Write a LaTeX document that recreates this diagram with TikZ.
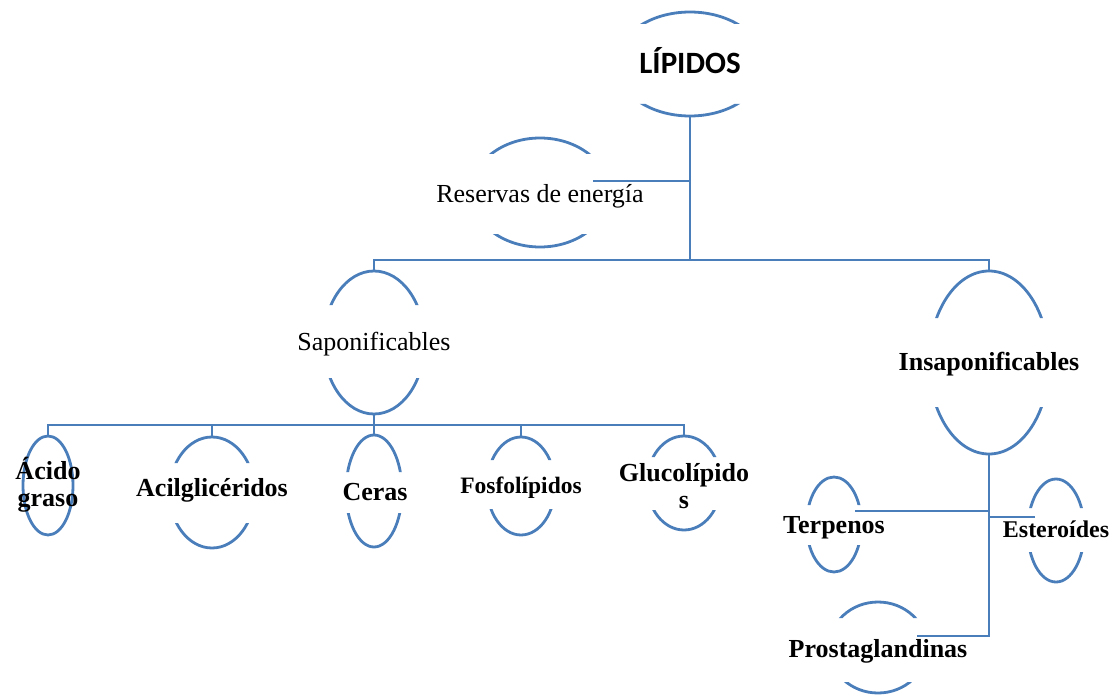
\documentclass[tikz,border=0pt]{standalone}
\usepackage{fontspec}
\setmainfont{Liberation Serif}
\newfontfamily\calfont{Carlito}
\usepackage{tikz}
\usetikzlibrary{shapes,positioning,calc}
\definecolor{lineblue}{RGB}{74,126,187}
\tikzset{
  oval/.style={ellipse, draw=lineblue, line width=2.8pt, inner sep=0pt, outer sep=0pt},
  conn/.style={draw=lineblue, line width=2.8pt},
  rtxt/.style={font=\fontsize{26}{26}\selectfont, inner sep=0pt},
  btxt/.style={font=\fontsize{26}{27}\selectfont\bfseries, inner sep=0pt, align=center},
}
% oval cut open across the text band: name, x, y, rx, ry, top gap, bottom gap
\newcommand{\ovalcut}[7]{%
  \begin{scope}
    \clip ({#2-#4-5},{#3-#5-5}) rectangle ({#2+#4+5},{#3-#6})
          ({#2-#4-5},{#3+#7}) rectangle ({#2+#4+5},{#3+#5+5});
    \node[oval, minimum width={2*#4}, minimum height={2*#5}] (#1) at (#2,#3) {};
  \end{scope}}

\begin{document}
\begin{tikzpicture}[x=1pt, y=-1pt]
    \useasboundingbox (0,0) rectangle (1115,695);
    % ovals
    \ovalcut{lip}{690}{64}{74}{52}{40}{40}
    \ovalcut{res}{540}{192.5}{69}{54.5}{38.5}{41.5}
    \ovalcut{sap}{374}{342.5}{50.5}{71.5}{37.5}{35.5}
    \ovalcut{ins}{989}{362.5}{60}{91.5}{44.5}{44.5}
    \ovalcut{acido}{48}{485.5}{25}{49.5}{0}{0}
    \ovalcut{acil}{212}{492.5}{42.5}{55.5}{29.5}{30.5}
    \ovalcut{ceras}{374}{491}{28}{56}{19}{22}
    \ovalcut{fosfo}{521}{486}{34}{49}{26}{23}
    \ovalcut{gluco}{684}{483}{37}{47}{26}{27}
    \ovalcut{terp}{834}{524.5}{27.4}{47.5}{19.5}{20.5}
    \ovalcut{este}{1056}{530.5}{28.3}{51.5}{22.5}{21.5}
    \ovalcut{prosta}{878}{647.5}{49}{45.5}{29.5}{34.5}
    % texts
    \node[font=\calfont\fontsize{31}{31}\selectfont\bfseries, inner sep=0pt, anchor=base] (lipt) at (690,74) {LÍPIDOS};
    \node[rtxt, anchor=base] (rest) at (540,202) {Reservas de energía};
    \node[rtxt, anchor=base] (sapt) at (374,350) {Saponificables};
    \node[btxt, anchor=base] (inst) at (989,370) {Insaponificables};
    \node[btxt] (acidot) at (48,485) {Ácido\\graso};
    \node[btxt, anchor=base] (acilt) at (212,496) {Acilglicéridos};
    \node[btxt, anchor=base] (cerast) at (375,500) {Ceras};
    \node[btxt, anchor=base, font=\fontsize{23.5}{24}\selectfont\bfseries] (fosfot) at (521,493) {Fosfolípidos};
    \node[btxt] (glucot) at (684,486) {Glucolípido\\s};
    \node[btxt, anchor=base] (terpt) at (834,533) {Terpenos};
    \node[btxt, anchor=base, font=\fontsize{24}{24}\selectfont\bfseries] (estet) at (1056,537) {Esteroídes};
    \node[btxt, anchor=base] (prostat) at (878,657) {Prostaglandinas};
    % connectors
    \coordinate (topbar) at (690,260);
    \draw[conn] (lip.south) -- (topbar) -| (sap.north);
    \draw[conn] (topbar) -| (ins.north);
    \coordinate (resend) at (593,181);
    \draw[conn] (resend) -- (resend -| lip.south); % Reservas branch
    \coordinate (sapbar) at (374,425);
    \draw[conn] (sap.south) -- (sapbar);
    \draw[conn] (acido.north) |- (gluco.north |- sapbar) -- (gluco.north);
    \foreach \n in {acil,fosfo}
        \draw[conn] (\n.north) -- (\n.north |- sapbar);
    \draw[conn] (sapbar) -- (ceras.north);
    % Insaponificables branch
    \coordinate (terend) at (855,511);
    \coordinate (estend) at (1035,517);
    \coordinate (prosend) at (917,636);
    \draw[conn] (ins.south) |- (prosend);
    \draw[conn] (terend) -- (terend -| ins.south);
    \draw[conn] (estend) -- (estend -| ins.south);
\end{tikzpicture}
\end{document}
